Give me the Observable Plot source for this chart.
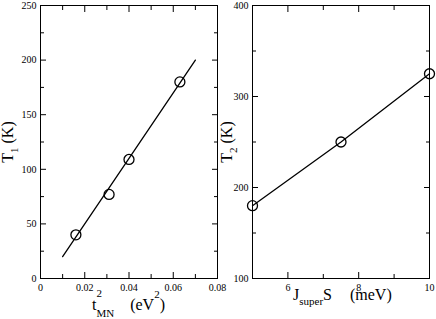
<!DOCTYPE html>
<html><head><meta charset="utf-8">
<script src="https://cdn.jsdelivr.net/npm/d3@7"></script>
<script src="https://cdn.jsdelivr.net/npm/@observablehq/plot@0.6"></script>
<style>
body{margin:0;background:#fff}
#wrap{position:relative;width:436px;height:319px;overflow:hidden}
.p{position:absolute;top:0;width:218px;height:319px}
</style>
</head><body><div id="wrap"><div class="p" id="right" style="left:218px"></div><div class="p" id="left" style="left:0"></div></div>
<script>
// Left panel data
const tauSq = [0.016, 0.031, 0.040, 0.063];
const T1 = [40, 77, 109, 180];
const fitTau = [0.01, 0.07];
const fitT1 = [20, 200];
const xTicksL = [0, 0.02, 0.04, 0.06, 0.08];
const xMinorL = [0.01, 0.03, 0.05, 0.07];
const yTicksL = [0, 50, 100, 150, 200, 250];
const yMinorL = [25, 75, 125, 175, 225];
// Right panel data
const Jsuper = [5, 7.5, 10];
const T2 = [180, 250, 325];
const xTicksR = [6, 8, 10];
const xMinorR = [7, 9];
const yTicksR = [100, 200, 300, 400];
const yMinorR = [150, 250, 350];

const FONT = "Liberation Serif";

function panel({xDomain, yDomain, xTicks, xMinor, yTicks, yMinor, marks, marginLeft, marginRight}) {
  const tickAxes = [];
  for (const a of ["top", "bottom"]) {
    tickAxes.push(Plot.axisX({ticks: xTicks, tickSize: -6, anchor: a, tickFormat: () => "", label: null}));
    tickAxes.push(Plot.axisX({ticks: xMinor, tickSize: -4, anchor: a, tickFormat: () => "", label: null}));
  }
  for (const a of ["left", "right"]) {
    tickAxes.push(Plot.axisY({ticks: yTicks, tickSize: -6, anchor: a, tickFormat: () => "", label: null}));
    tickAxes.push(Plot.axisY({ticks: yMinor, tickSize: -4, anchor: a, tickFormat: () => "", label: null}));
  }
  return Plot.plot({
    width: 218, height: 319,
    marginTop: 5, marginBottom: 41, marginLeft, marginRight,
    style: {fontFamily: FONT, fontSize: "10px", color: "black", background: "transparent", overflow: "visible"},
    x: {domain: xDomain},
    y: {domain: yDomain},
    marks: [
      ...tickAxes,
      Plot.axisX({ticks: xTicks, tickSize: 0, tickPadding: 5, anchor: "bottom", label: null, tickFormat: d => String(d)}),
      Plot.axisY({ticks: yTicks, tickSize: 0, tickPadding: 4, anchor: "left", label: null, tickFormat: d => String(d)}),
      Plot.frame({stroke: "black", strokeWidth: 1}),
      ...marks
    ]
  });
}

const ptsL = tauSq.map((x, i) => ({x, y: T1[i]}));
const fitL = fitTau.map((x, i) => ({x, y: fitT1[i]}));
const ptsR = Jsuper.map((x, i) => ({x, y: T2[i]}));

const left = panel({
  xDomain: [0, 0.08], yDomain: [0, 250],
  xTicks: xTicksL, xMinor: xMinorL, yTicks: yTicksL, yMinor: yMinorL,
  marginLeft: 40, marginRight: 1,
  marks: [
    Plot.line(fitL, {x: "x", y: "y", stroke: "black", strokeWidth: 1.3}),
    Plot.dot(ptsL, {x: "x", y: "y", r: 5, stroke: "black", strokeWidth: 1.3})
  ]
});
const right = panel({
  xDomain: [5, 10], yDomain: [100, 400],
  xTicks: xTicksR, xMinor: xMinorR, yTicks: yTicksR, yMinor: yMinorR,
  marginLeft: 34, marginRight: 7,
  marks: [
    Plot.line(ptsR, {x: "x", y: "y", stroke: "black", strokeWidth: 1.3}),
    Plot.dot(ptsR, {x: "x", y: "y", r: 5, stroke: "black", strokeWidth: 1.3})
  ]
});
document.getElementById("left").append(left);
document.getElementById("right").append(right);

function addText(svg, attrs, parts) {
  const t = d3.select(svg).append("text")
    .attr("fill", "black").attr("text-anchor", "start").style("font-family", FONT);
  for (const [k, v] of Object.entries(attrs)) t.attr(k, v);
  for (const p of parts) {
    const s = t.append("tspan").text(p.text).attr("font-size", p.size || 16);
    if (p.dx != null) s.attr("dx", p.dx);
    if (p.dy != null) s.attr("dy", p.dy);
  }
}
// Left axis titles
addText(left, {transform: "translate(13,142) rotate(-90)", "text-anchor": "middle"}, [
  {text: "T"}, {text: "1", size: 11, dy: 5}, {text: "\u00a0(K)", dy: -5}
]);
addText(left, {x: 92, y: 310}, [
  {text: "t"}, {text: "2", size: 11, dy: -13}, {text: "MN", size: 11, dx: -5.5, dy: 20},
  {text: "(eV", dx: 16, dy: -7}, {text: "2", size: 11, dy: -12}, {text: ")", dy: 12}
]);
// Right axis titles (svg local coords: offset 218)
addText(right, {transform: "translate(14,142) rotate(-90)", "text-anchor": "middle"}, [
  {text: "T"}, {text: "2", size: 11, dy: 5}, {text: "\u00a0(K)", dy: -5}
]);
addText(right, {x: 75, y: 300}, [
  {text: "J"}, {text: "super", size: 11, dy: 5}, {text: "S", dy: -5}, {text: "(meV)", dx: 18}
]);
</script>
</body></html>
